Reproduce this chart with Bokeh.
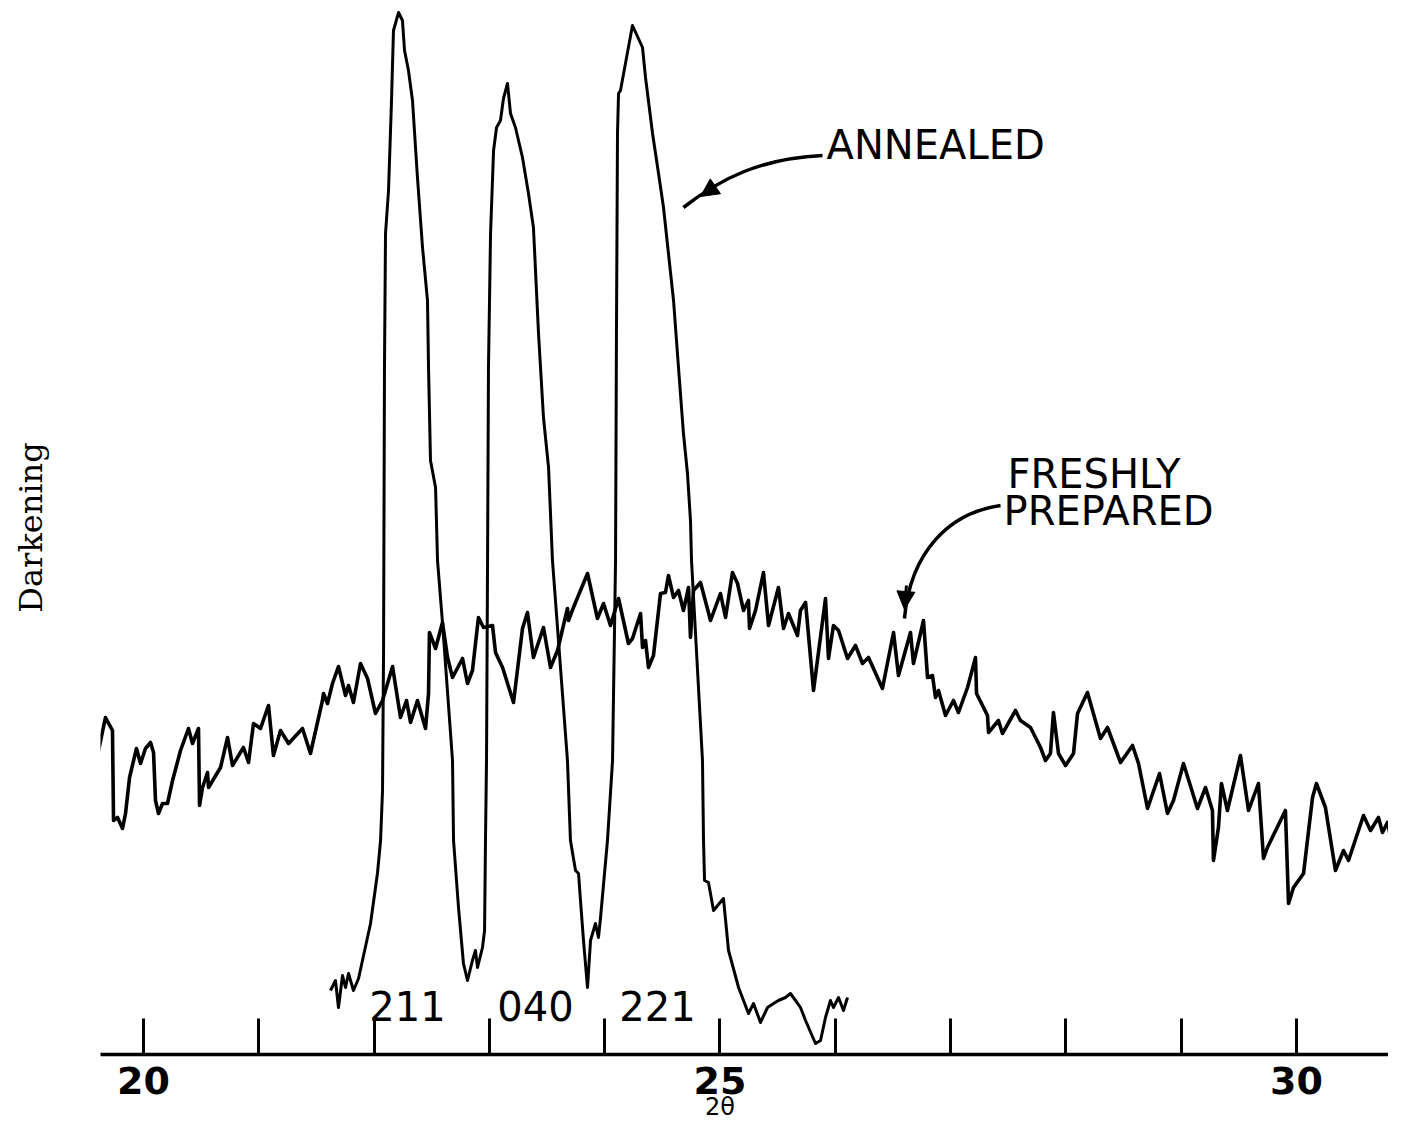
from bokeh.plotting import figure
from bokeh.models import Range1d, FixedTicker, Arrow, NormalHead, LinearAxis
from bokeh.core.properties import value
from bokeh.embed import file_html
from bokeh.resources import INLINE

# ---- data (2theta in degrees, darkening in arbitrary units) ----
fresh_2theta = [19.592, 19.670, 19.731, 19.740, 19.775, 19.818, 19.844, 19.879, 19.939, 19.974,
                20.017, 20.061, 20.087, 20.104, 20.130, 20.165, 20.208, 20.252, 20.321, 20.390,
                20.425, 20.477, 20.486, 20.512, 20.555, 20.564, 20.668, 20.729, 20.772, 20.867,
                20.911, 20.954, 21.015, 21.084, 21.127, 21.188, 21.258, 21.379, 21.448, 21.552,
                21.561, 21.596, 21.639, 21.691, 21.752, 21.778, 21.821, 21.882, 21.943, 22.012,
                22.073, 22.160, 22.229, 22.281, 22.316, 22.376, 22.446, 22.472, 22.480, 22.533,
                22.593, 22.637, 22.680, 22.767, 22.810, 22.853, 22.905, 22.949, 23.027, 23.053,
                23.114, 23.209, 23.287, 23.330, 23.382, 23.469, 23.530, 23.591, 23.617, 23.677,
                23.686, 23.729, 23.851, 23.937, 23.990, 24.050, 24.120, 24.206, 24.241, 24.311,
                24.328, 24.354, 24.380, 24.423, 24.484, 24.527, 24.553, 24.597, 24.640, 24.683,
                24.727, 24.744, 24.770, 24.831, 24.918, 25.004, 25.048, 25.108, 25.152, 25.204,
                25.247, 25.256, 25.308, 25.377, 25.421, 25.507, 25.551, 25.594, 25.672, 25.698,
                25.742, 25.811, 25.915, 25.941, 25.984, 26.028, 26.106, 26.175, 26.236, 26.288,
                26.409, 26.505, 26.548, 26.652, 26.678, 26.765, 26.800, 26.843, 26.869, 26.895,
                26.956, 27.025, 27.068, 27.147, 27.216, 27.225, 27.320, 27.329, 27.415, 27.450,
                27.563, 27.606, 27.693, 27.780, 27.823, 27.866, 27.892, 27.936, 27.997, 28.066,
                28.101, 28.187, 28.300, 28.361, 28.474, 28.578, 28.630, 28.708, 28.812, 28.881,
                28.933, 29.020, 29.141, 29.211, 29.271, 29.280, 29.323, 29.349, 29.401, 29.514,
                29.584, 29.670, 29.714, 29.748, 29.904, 29.931, 29.974, 30.061, 30.139, 30.173,
                30.251, 30.338, 30.408, 30.451, 30.581, 30.642, 30.711, 30.746, 30.789, 30.876,
                30.902]
fresh_dark = [30.2, 34.5, 33.2, 24.2, 24.5, 23.4, 24.9, 28.5, 31.4, 29.9,
              31.4, 32.0, 31.0, 26.2, 24.9, 25.9, 25.9, 28.2, 31.2, 33.4,
              31.9, 33.4, 25.7, 27.5, 29.0, 27.5, 29.5, 32.5, 29.7, 31.5,
              30.0, 33.9, 33.4, 35.7, 30.7, 33.2, 31.9, 33.4, 30.9, 36.2,
              36.9, 35.9, 37.9, 39.6, 36.7, 37.7, 36.0, 39.9, 38.4, 34.9,
              36.2, 39.6, 34.5, 36.2, 34.0, 36.2, 33.4, 36.9, 43.0, 41.4,
              44.0, 40.5, 38.5, 40.4, 37.9, 39.2, 44.5, 43.5, 43.7, 41.0,
              39.5, 36.0, 43.4, 45.0, 40.5, 43.5, 39.5, 41.2, 42.5, 45.4,
              44.2, 45.5, 48.9, 44.4, 45.9, 43.7, 46.4, 41.9, 42.4, 44.9,
              41.5, 42.2, 39.5, 40.7, 46.9, 47.0, 48.7, 46.5, 47.2, 45.2,
              47.5, 42.5, 47.2, 48.0, 44.2, 46.9, 44.5, 49.0, 47.9, 45.2,
              46.2, 43.4, 45.2, 49.0, 43.7, 47.5, 43.4, 44.9, 42.7, 45.2,
              46.0, 37.2, 46.4, 40.4, 43.7, 43.2, 40.4, 41.7, 39.9, 40.5,
              37.4, 43.0, 38.7, 43.0, 39.9, 44.2, 38.5, 38.7, 36.5, 37.2,
              34.7, 36.2, 35.0, 37.5, 40.5, 36.9, 34.7, 33.0, 34.2, 32.9,
              35.2, 34.2, 33.5, 31.5, 30.2, 30.9, 35.0, 30.9, 29.7, 30.9,
              34.9, 37.0, 32.4, 33.5, 30.0, 31.7, 29.9, 25.4, 28.9, 24.9,
              26.2, 29.9, 25.4, 27.5, 25.2, 20.2, 23.5, 27.9, 25.2, 30.7,
              25.2, 27.9, 20.4, 21.5, 25.2, 15.9, 17.5, 18.9, 26.5, 27.9,
              25.5, 19.2, 21.2, 20.2, 24.7, 23.2, 24.5, 23.0, 24.0, 19.5,
              16.7]

annealed_2theta = [21.622, 21.665, 21.691, 21.726, 21.752, 21.778, 21.821, 21.865, 21.899, 21.969,
                   22.029, 22.056, 22.073, 22.082, 22.090, 22.099, 22.125, 22.151, 22.168, 22.212,
                   22.246, 22.264, 22.298, 22.333, 22.376, 22.420, 22.463, 22.472, 22.489, 22.533,
                   22.550, 22.593, 22.680, 22.689, 22.732, 22.775, 22.810, 22.853, 22.879, 22.897,
                   22.940, 22.958, 22.966, 22.975, 22.984, 22.992, 23.010, 23.036, 23.062, 23.096,
                   23.122, 23.157, 23.183, 23.226, 23.287, 23.339, 23.382, 23.426, 23.469, 23.513,
                   23.547, 23.677, 23.703, 23.747, 23.773, 23.790, 23.816, 23.851, 23.877, 23.920,
                   23.946, 23.964, 24.024, 24.068, 24.094, 24.102, 24.111, 24.120, 24.137, 24.180,
                   24.241, 24.328, 24.354, 24.415, 24.467, 24.510, 24.553, 24.597, 24.640, 24.683,
                   24.718, 24.744, 24.753, 24.848, 24.857, 24.866, 24.900, 24.944, 25.030, 25.074,
                   25.161, 25.247, 25.291, 25.351, 25.412, 25.464, 25.507, 25.568, 25.611, 25.655,
                   25.698, 25.742, 25.828, 25.872, 25.915, 25.958, 25.984, 26.028, 26.071, 26.106]
annealed_dark = [7.2, 8.2, 5.5, 8.7, 7.5, 8.9, 7.2, 8.4, 10.2, 13.9,
                 18.9, 22.2, 27.2, 41.2, 69.5, 82.9, 87.2, 96.2, 103.2, 105.0,
                 104.2, 101.2, 99.2, 96.2, 88.5, 81.5, 76.2, 69.5, 60.2, 57.5,
                 50.2, 44.0, 30.2, 22.2, 15.5, 9.9, 8.2, 10.2, 11.2, 9.5,
                 11.5, 13.2, 22.2, 30.2, 50.2, 69.5, 82.9, 91.2, 93.5, 94.2,
                 96.4, 97.9, 94.9, 93.5, 90.5, 86.9, 83.5, 72.9, 64.5, 59.5,
                 50.2, 30.2, 22.2, 19.2, 18.9, 16.2, 12.2, 7.5, 12.2, 13.9,
                 12.5, 14.5, 22.2, 30.2, 50.2, 72.9, 92.9, 96.9, 97.2, 99.9,
                 103.7, 101.5, 98.5, 92.9, 88.9, 85.5, 80.9, 76.2, 69.5, 62.9,
                 58.9, 54.2, 50.2, 30.2, 22.2, 18.2, 18.0, 15.2, 16.4, 11.2,
                 7.5, 4.9, 5.9, 4.0, 5.5, 5.9, 6.2, 6.5, 6.9, 6.2,
                 5.5, 4.2, 1.9, 2.2, 4.5, 6.2, 5.5, 6.5, 5.2, 6.5]

tick_values = [20, 21, 22, 23, 24, 25, 26, 27, 28, 29, 30]
tick_labels = ["20", "", "", "", "", "25", "", "", "", "", "30"]
x_title_at = [25]
x_title = ["2θ"]

peak_labels = ["211", "040", "221"]
peak_label_2theta = [22.290, 23.400, 24.458]
peak_label_dark = [5.7, 5.7, 5.7]

# curve names with their anchor positions (data units)
name_lines = ["ANNEALED", "FRESHLY", "PREPARED"]
name_2theta = [25.924, 27.493, 27.459]
name_dark = [91.8, 58.9, 55.2]

# pointer curves: start, control1, control2, end ; plus arrowhead start/end
ann_ptr = dict(x0=25.889, y0=90.7, cx0=25.351, cy0=90.4, cx1=25.004, cy1=88.4, x1=24.683, y1=85.5)
ann_head = dict(x_start=24.970, y_start=87.7, x_end=24.831, y_end=86.6)
fr_ptr = dict(x0=27.433, y0=55.7, cx0=26.999, cy0=55.0, cx1=26.652, cy1=51.2, x1=26.600, y1=44.4)
fr_head = dict(x_start=26.617, y_start=47.7, x_end=26.600, y_end=45.3)

# ---- figure ----
p = figure(width=1388, height=1124, output_backend="svg", toolbar_location=None,
           x_range=Range1d(19.627, 30.798), y_range=Range1d(0.8, 106.2),
           min_border_left=100, min_border_right=0, min_border_top=0, min_border_bottom=70)
p.outline_line_color = None
p.grid.visible = False
p.background_fill_color = "white"
p.border_fill_color = "white"

ink = "#000000"

p.line(fresh_2theta, fresh_dark, line_color=ink, line_width=3.6, line_join="round")
p.line(annealed_2theta, annealed_dark, line_color=ink, line_width=3.0, line_join="round")

# x axis
xa = p.xaxis[0]
xa.ticker = FixedTicker(ticks=tick_values)
xa.major_label_overrides = {t: l for t, l in zip(tick_values, tick_labels)}
xa.minor_tick_line_color = None
xa.major_tick_in = 36
xa.major_tick_out = 0
xa.major_tick_line_width = 3
xa.major_tick_line_color = ink
xa.axis_line_width = 3.5
xa.axis_line_color = ink
xa.major_label_text_font = "DejaVu Sans"
xa.major_label_text_font_size = "38px"
xa.major_label_text_font_style = "bold"
xa.major_label_text_color = ink
xa.major_label_standoff = 12

# second row under the axis: the variable's name, placed under "25"
xt = LinearAxis(ticker=FixedTicker(ticks=x_title_at),
                major_label_overrides={t: l for t, l in zip(x_title_at, x_title)},
                axis_line_color=None, major_tick_line_color=None, minor_tick_line_color=None,
                major_tick_in=0, major_tick_out=0, major_label_standoff=-4,
                major_label_text_font="DejaVu Sans", major_label_text_font_size="24px",
                major_label_text_color=ink)
p.add_layout(xt, "below")

# y axis: only its title
ya = p.yaxis[0]
ya.ticker = FixedTicker(ticks=[])
ya.axis_line_color = None
ya.major_tick_line_color = None
ya.minor_tick_line_color = None
ya.major_tick_out = 0
ya.major_label_standoff = 0
ya.axis_label = "Darkening"
ya.axis_label_text_font = "DejaVu Serif"
ya.axis_label_text_font_size = "32px"
ya.axis_label_text_font_style = "normal"
ya.axis_label_text_color = ink
ya.axis_label_standoff = 51

# peak labels
p.text(peak_label_2theta, peak_label_dark, text=peak_labels, text_font=value("DejaVu Sans"),
       text_font_size="40px", text_align="center", text_baseline="middle", text_color=ink)

# curve names
p.text(name_2theta, name_dark, text=name_lines, text_font=value("DejaVu Sans"),
       text_font_size="40px", text_align="left", text_baseline="middle", text_color=ink)

# pointers
for ptr, head in ((ann_ptr, ann_head), (fr_ptr, fr_head)):
    p.bezier(x0=[ptr["x0"]], y0=[ptr["y0"]], x1=[ptr["x1"]], y1=[ptr["y1"]],
             cx0=[ptr["cx0"]], cy0=[ptr["cy0"]], cx1=[ptr["cx1"]], cy1=[ptr["cy1"]],
             line_color=ink, line_width=3.5)
    p.add_layout(Arrow(end=NormalHead(size=18, fill_color=ink, line_color=ink, line_width=1),
                       line_width=3, line_color=ink, **head))

open("out.html", "w").write(file_html(p, INLINE))
